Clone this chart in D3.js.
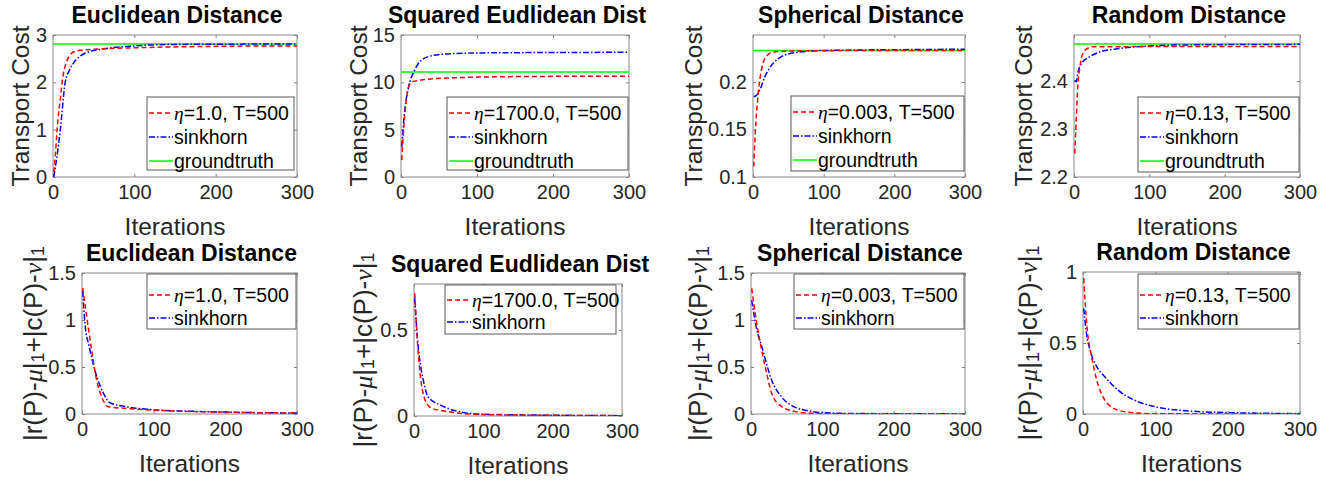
<!DOCTYPE html>
<html>
<head>
<meta charset="utf-8">
<script src="https://cdn.jsdelivr.net/npm/d3@7"></script>
<style>
  body { margin: 0; background: #fff; }
  svg { display: block; font-family: "Liberation Sans", Arial, sans-serif; }
</style>
</head>
<body>
<div id="chart"></div>
<script>
// values, [iteration, value]
const xTicks = [0, 100, 200, 300];

// top row: transport cost
const euclidCostOurs = [[1,0.1],[3,0.5],[6,1.2],[9,1.65],[12,2.1],[15,2.35],[20,2.55],[25,2.64],[35,2.68],[50,2.7],[100,2.73],[200,2.76],[300,2.77]];
const euclidCostSink = [[1,0],[5,0.45],[9,1.0],[15,2.0],[20,2.25],[25,2.4],[40,2.62],[60,2.7],[100,2.77],[150,2.8],[300,2.81]];
const euclidCostTruth = 2.81;

const sqCostOurs = [[1,1.8],[3,4.5],[5,6.5],[7,8.2],[10,9.5],[14,10.05],[20,10.15],[32,10.3],[60,10.45],[100,10.55],[200,10.63],[300,10.65]];
const sqCostSink = [[1,3.2],[5,7.1],[10,9.5],[18,11.3],[25,12.2],[40,12.8],[60,13.0],[100,13.1],[200,13.15],[300,13.17]];
const sqCostTruth = 11.1;

const sphCostOurs = [[1,0.111],[3,0.143],[7.5,0.189],[12,0.213],[19,0.227],[28,0.2315],[50,0.2325],[100,0.233],[300,0.2333]];
const sphCostSink = [[1,0.1848],[3,0.185],[10,0.192],[17,0.206],[25,0.2164],[35,0.2242],[50,0.2295],[75,0.2322],[100,0.2332],[200,0.234],[300,0.2345]];
const sphCostTruth = 0.2333;

const rndCostOurs = [[1,2.249],[3,2.319],[5,2.388],[8,2.43],[10,2.45],[15,2.465],[25,2.4715],[100,2.4718],[300,2.4718]];
const rndCostSink = [[1,2.402],[3,2.3985],[5,2.416],[10,2.437],[20,2.45],[35,2.461],[55,2.4667],[100,2.473],[130,2.475],[300,2.4765]];
const rndCostTruth = 2.477;

// bottom row: marginal violation
const euclidErrOurs = [[1,1.34],[6.5,1.04],[13.5,0.68],[20.5,0.36],[27.5,0.18],[37,0.078],[60,0.06],[100,0.04],[200,0.02],[300,0.01]];
const euclidErrSink = [[1,1.31],[4,0.97],[10,0.72],[20.5,0.4],[30,0.22],[39,0.12],[60,0.08],[100,0.045],[150,0.03],[200,0.02],[300,0.01]];

const sqErrOurs = [[1,0.713],[6,0.37],[8.7,0.25],[16,0.093],[25,0.046],[50,0.025],[100,0.008],[300,0.002]];
const sqErrSink = [[1,0.686],[5,0.45],[10,0.28],[15,0.18],[20,0.112],[40,0.06],[60,0.03],[100,0.01],[300,0.002]];

const sphErrOurs = [[1,1.337],[8,0.965],[15,0.68],[22,0.43],[29,0.22],[43,0.078],[60,0.03],[80,0.01],[100,0.003],[300,0]];
const sphErrSink = [[1,1.21],[8,0.9],[15,0.72],[29,0.36],[43,0.18],[60,0.078],[80,0.035],[100,0.015],[150,0.005],[300,0.001]];

const rndErrOurs = [[1,0.956],[5,0.64],[12,0.4],[19,0.24],[30,0.1],[48,0.028],[70,0.008],[100,0.002],[300,0]];
const rndErrSink = [[1,0.744],[5,0.56],[9.7,0.45],[19,0.333],[30,0.263],[48,0.17],[70,0.1],[100,0.051],[150,0.02],[200,0.01],[300,0.003]];

const titles = ["Euclidean Distance", "Squared Eudlidean Dist", "Spherical Distance", "Random Distance"];
const etaLabels = ["1.0", "1700.0", "0.003", "0.13"];

const W = 1331, H = 481;
const svg = d3.select("#chart").append("svg").attr("width", W).attr("height", H);

const styles = {
  ours: { color: "#ff0000", dash: "5,3" },
  sink: { color: "#0000ff", dash: "6,2,1.5,2" },
  truth: { color: "#00ff00", dash: null }
};

const panels = [
  { box: [53, 297, 35, 177], y: [0, 3], yTicks: [0, 1, 2, 3], fmt: d3.format("d"), title: 0, ylab: "cost", ylx: 20,
    series: [["ours", euclidCostOurs], ["sink", euclidCostSink]], truth: euclidCostTruth,
    legend: [147, 294, 97, 170], rowY: [113, 137, 161] },
  { box: [401, 629, 35, 177], y: [0, 15], yTicks: [0, 5, 10, 15], fmt: d3.format("d"), title: 1, ylab: "cost", ylx: 358,
    series: [["ours", sqCostOurs], ["sink", sqCostSink]], truth: sqCostTruth,
    legend: [447, 628, 97, 170], rowY: [113, 137, 161] },
  { box: [753, 965, 35, 177], y: [0.1, 0.2495], yTicks: [0.1, 0.15, 0.2], fmt: d => String(d), title: 2, ylab: "cost", ylx: 693,
    series: [["ours", sphCostOurs], ["sink", sphCostSink]], truth: sphCostTruth,
    legend: [791, 964, 96, 171], rowY: [112, 136, 160] },
  { box: [1074, 1300, 35, 177], y: [2.2, 2.496], yTicks: [2.2, 2.3, 2.4], fmt: d3.format(".1f"), title: 3, ylab: "cost", ylx: 1023,
    series: [["ours", rndCostOurs], ["sink", rndCostSink]], truth: rndCostTruth,
    legend: [1138, 1299, 97, 172], rowY: [113, 137, 161] },
  { box: [82, 297, 273, 414], y: [0, 1.5], yTicks: [0, 0.5, 1, 1.5], fmt: d => String(d), title: 0, ylab: "err", ylx: 33,
    series: [["ours", euclidErrOurs], ["sink", euclidErrSink]],
    legend: [147, 296, 274, 329], rowY: [295, 318] },
  { box: [414, 622, 284, 416], y: [0, 0.767], yTicks: [0, 0.5], fmt: d => String(d), title: 1, ylab: "err", ylx: 363,
    series: [["ours", sqErrOurs], ["sink", sqErrSink]],
    legend: [445, 616, 285, 334], rowY: [300, 322] },
  { box: [751, 965, 273, 414], y: [0, 1.5], yTicks: [0, 0.5, 1, 1.5], fmt: d => String(d), title: 2, ylab: "err", ylx: 698,
    series: [["ours", sphErrOurs], ["sink", sphErrSink]],
    legend: [794, 964, 274, 329], rowY: [295, 318] },
  { box: [1083, 1300, 272, 414], y: [0, 1], yTicks: [0, 0.5, 1], fmt: d => String(d), title: 3, ylab: "err", ylx: 1028,
    series: [["ours", rndErrOurs], ["sink", rndErrSink]],
    legend: [1138, 1299, 274, 329], rowY: [295, 318] }
];

const tickColor = "#262626";

panels.forEach((p, i) => {
  const [x0, x1, y0, y1] = p.box;
  const x = d3.scaleLinear().domain([0, 300]).range([x0, x1]);
  const y = d3.scaleLinear().domain(p.y).range([y1, y0]);
  const g = svg.append("g");

  const clipId = "clip" + i;
  g.append("clipPath").attr("id", clipId).append("rect")
    .attr("x", x0).attr("y", y0).attr("width", x1 - x0).attr("height", y1 - y0);

  // axes (ticks inside, MATLAB style)
  const tk = 3;
  g.append("g").attr("transform", `translate(0,${y1})`)
    .call(d3.axisBottom(x).tickValues(xTicks).tickSize(-tk).tickPadding(8).tickFormat(d3.format("d")))
    .call(a => a.select(".domain").remove());
  g.append("g").attr("transform", `translate(0,${y0})`)
    .call(d3.axisTop(x).tickValues(xTicks).tickSize(-tk).tickFormat(""))
    .call(a => a.select(".domain").remove());
  g.append("g").attr("transform", `translate(${x0},0)`)
    .call(d3.axisLeft(y).tickValues(p.yTicks).tickSize(-tk).tickPadding(6).tickFormat(p.fmt))
    .call(a => a.select(".domain").remove());
  g.append("g").attr("transform", `translate(${x1},0)`)
    .call(d3.axisRight(y).tickValues(p.yTicks).tickSize(-tk).tickFormat(""))
    .call(a => a.select(".domain").remove());
  g.selectAll(".tick line").attr("stroke", "#808080");
  g.selectAll(".tick text").attr("fill", tickColor).style("font-size", "20px")
    .style("font-family", "'Liberation Sans', Arial, sans-serif");

  g.append("rect").attr("x", x0).attr("y", y0).attr("width", x1 - x0).attr("height", y1 - y0)
    .attr("fill", "none").attr("stroke", "#8a8a8a").attr("stroke-width", 1);

  // lines
  const line = d3.line().x(d => x(d[0])).y(d => y(d[1])).curve(d3.curveMonotoneX);
  const plot = g.append("g").attr("clip-path", `url(#${clipId})`);
  if (p.truth !== undefined) {
    plot.append("path").datum([[0, p.truth], [300, p.truth]]).attr("d", line)
      .attr("fill", "none").attr("stroke", styles.truth.color).attr("stroke-width", 1.5);
  }
  p.series.slice().reverse().forEach(([k, data]) => {
    plot.append("path").datum(data).attr("d", line)
      .attr("fill", "none").attr("stroke", styles[k].color).attr("stroke-width", 1.5)
      .attr("stroke-dasharray", styles[k].dash);
  });

  // title
  g.append("text").attr("x", (x0 + x1) / 2 + 2).attr("y", y0 - 12).attr("text-anchor", "middle")
    .style("font-size", "23px").style("font-weight", "bold").attr("fill", "#000")
    .text(titles[p.title]);

  // x label
  g.append("text").attr("x", (x0 + x1) / 2).attr("y", y1 + 58).attr("text-anchor", "middle")
    .style("font-size", "24.5px").attr("fill", tickColor).text("Iterations");

  // y label
  const yl = g.append("text").attr("transform", `translate(${p.ylx},${(y0 + y1) / 2}) rotate(-90)`)
    .attr("text-anchor", "middle").attr("dominant-baseline", "central")
    .style("font-size", "24.5px").attr("fill", tickColor);
  if (p.ylab === "cost") {
    yl.text("Transport Cost");
  } else {
    yl.style("font-size", "26px");
    yl.append("tspan").text("|r(P)-");
    yl.append("tspan").style("font-family", "'Liberation Serif', serif").style("font-style", "italic").text("\u03bc");
    yl.append("tspan").text("|");
    yl.append("tspan").attr("baseline-shift", "-30%").style("font-size", "18px").text("1");
    yl.append("tspan").text("+|c(P)-");
    yl.append("tspan").style("font-family", "'Liberation Serif', serif").style("font-style", "italic").text("\u03bd");
    yl.append("tspan").text("|");
    yl.append("tspan").attr("baseline-shift", "-30%").style("font-size", "18px").text("1");
  }

  // legend
  const [lx0, lx1, ly0, ly1] = p.legend;
  const lg = g.append("g");
  lg.append("rect").attr("x", lx0).attr("y", ly0).attr("width", lx1 - lx0).attr("height", ly1 - ly0)
    .attr("fill", "#fff").attr("stroke", "#5a5a5a").attr("stroke-width", 1);
  const entries = [["ours", null], ["sink", "sinkhorn"]];
  if (p.truth !== undefined) entries.push(["truth", "groundtruth"]);
  entries.forEach(([k, label], r) => {
    const ry = p.rowY[r];
    lg.append("line").attr("x1", lx0 + 2).attr("x2", lx0 + 26).attr("y1", ry).attr("y2", ry)
      .attr("stroke", styles[k].color).attr("stroke-width", 1.5).attr("stroke-dasharray", styles[k].dash);
    const t = lg.append("text").attr("x", lx0 + 27).attr("y", ry).attr("dominant-baseline", "central")
      .style("font-size", "19.5px").attr("fill", "#000");
    if (label) {
      t.text(label);
    } else {
      t.append("tspan").style("font-family", "'Liberation Serif', serif").style("font-style", "italic").text("\u03b7");
      t.append("tspan").text("=" + etaLabels[p.title] + ", T=500");
    }
  });
});
</script>
</body>
</html>
